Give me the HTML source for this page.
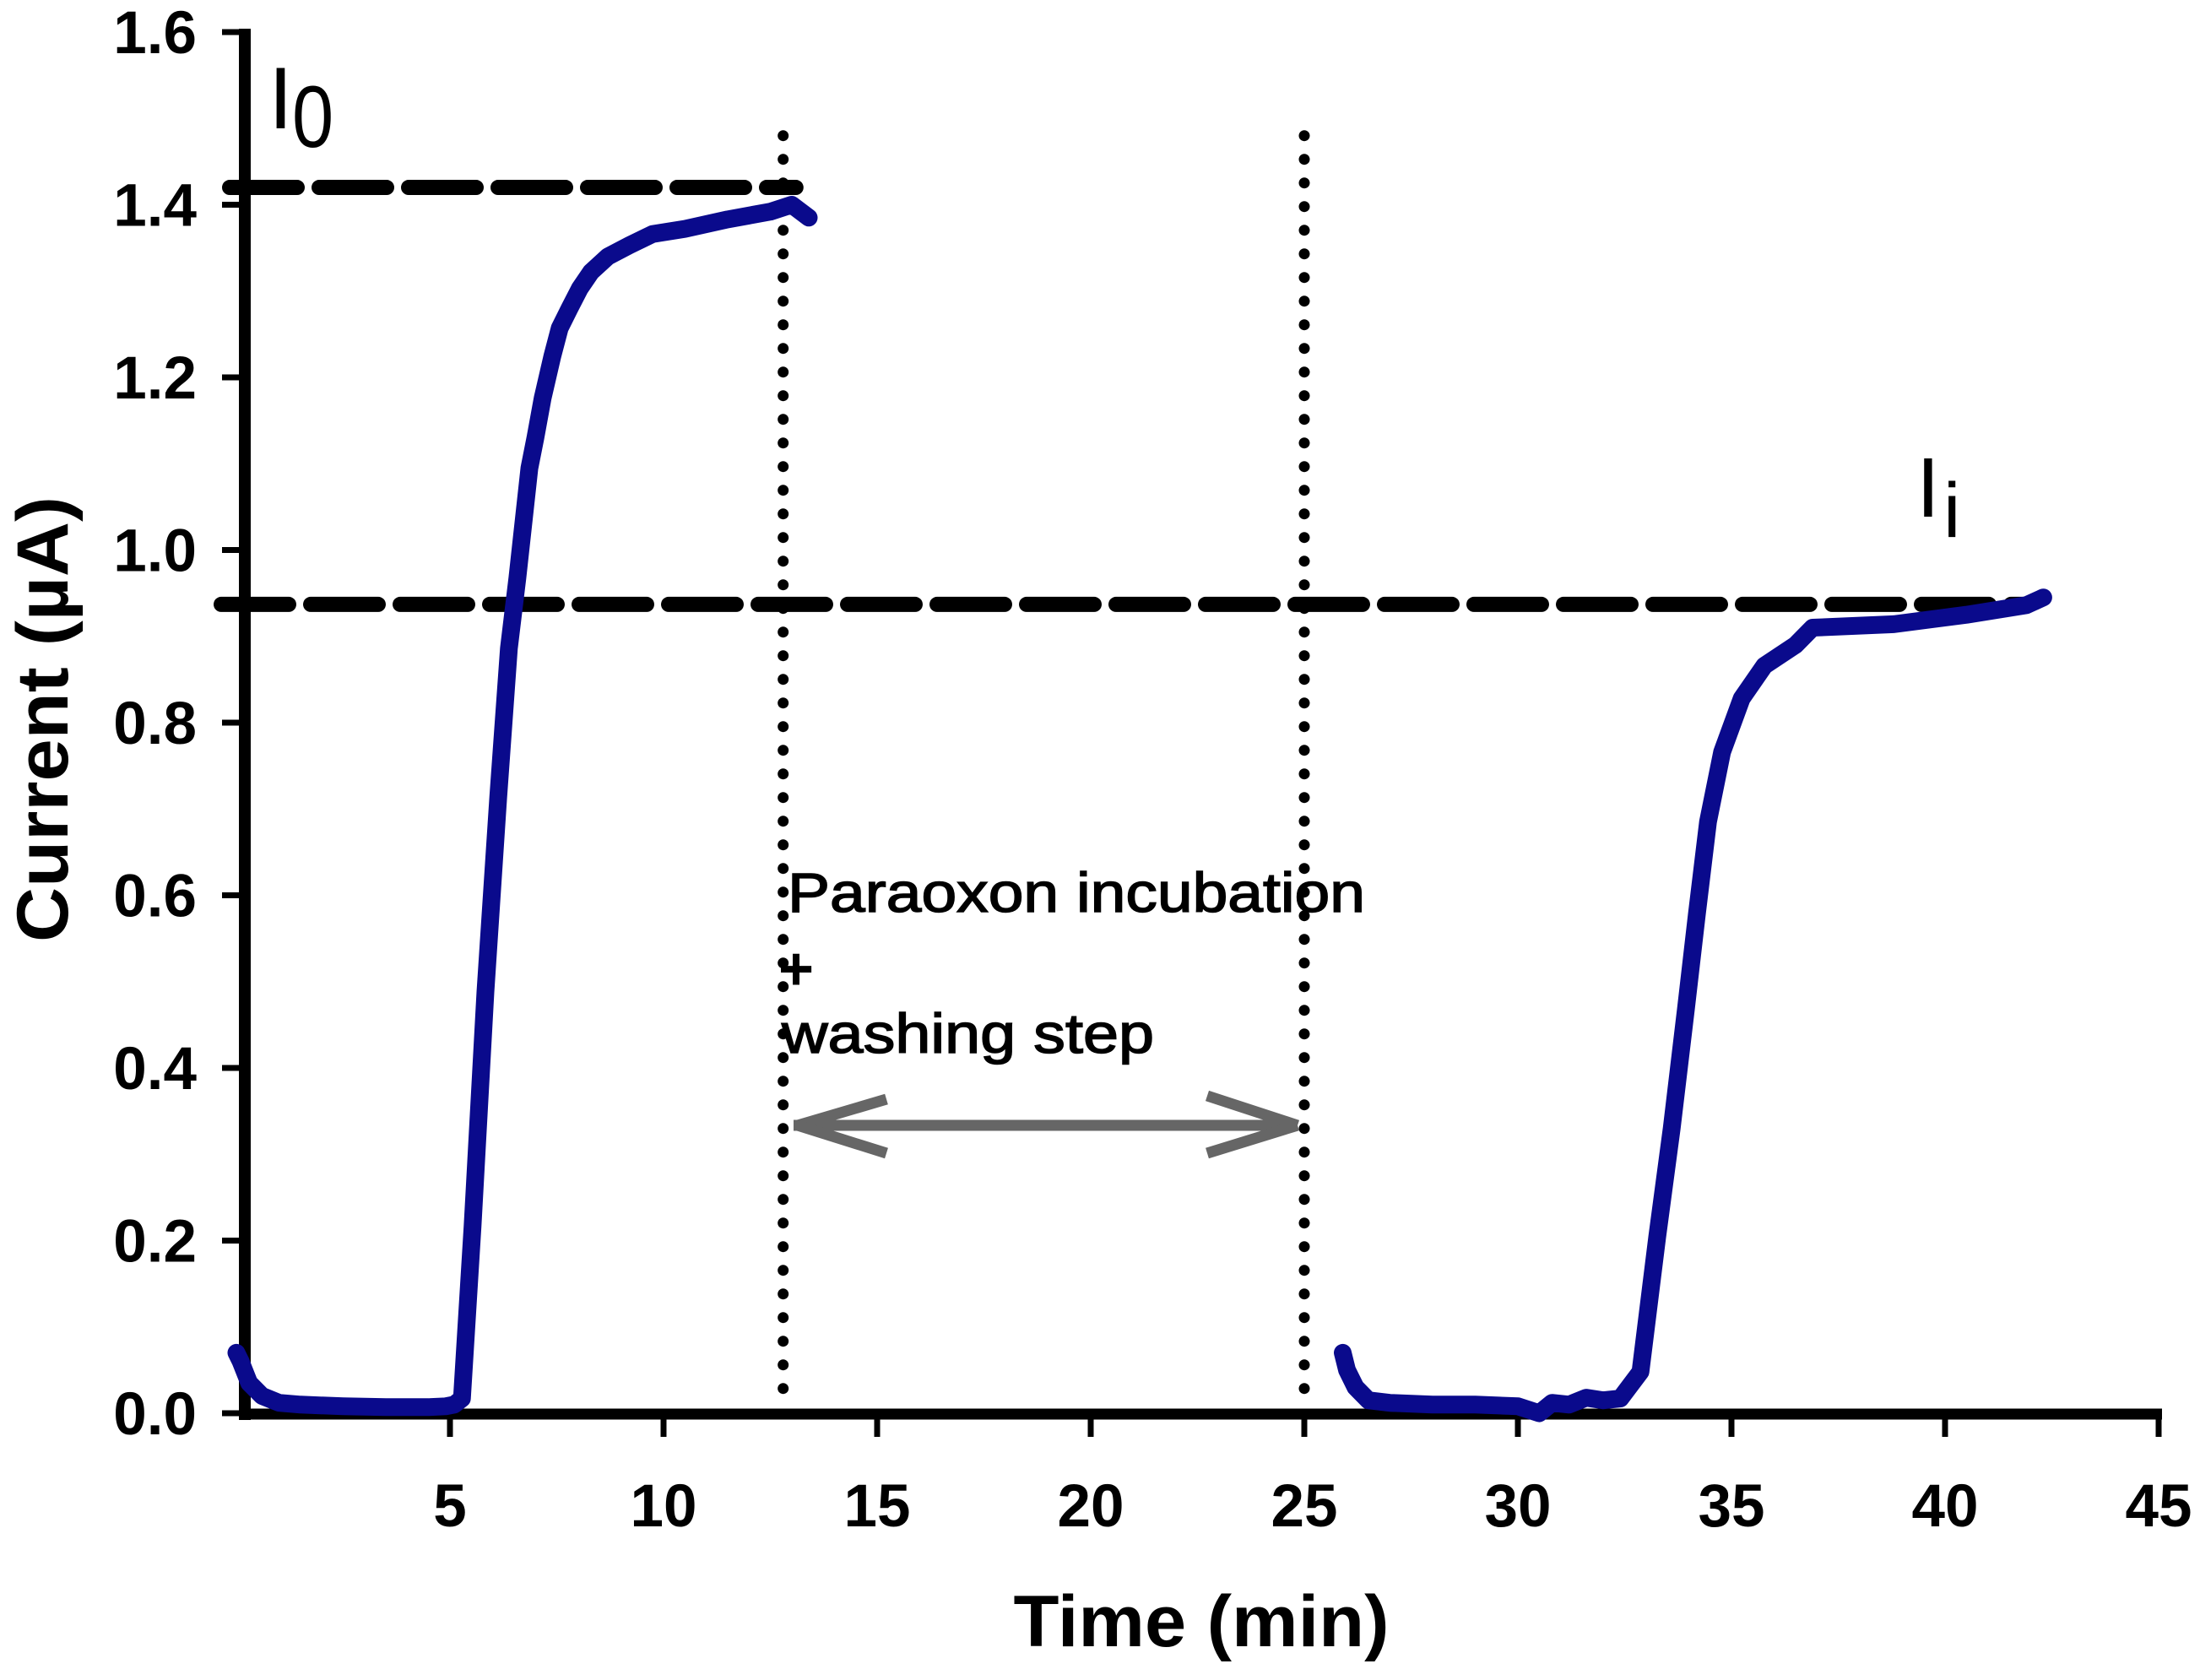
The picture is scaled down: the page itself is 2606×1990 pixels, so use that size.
<!DOCTYPE html>
<html><head><meta charset="utf-8"><style>
html,body{margin:0;padding:0;background:#fff}
svg{display:block}
text{font-family:"Liberation Sans",Arial,sans-serif}
</style></head><body>
<svg id="chart" width="2606" height="1990" viewBox="0 0 2606 1990" xmlns="http://www.w3.org/2000/svg">
<rect width="2606" height="1990" fill="#fff"/>
<g id="axes"></g>
<g id="refs"></g>
<g id="series"></g>
<g id="annot">
  <text x="318" y="152" font-size="104">I</text>
  <text x="346" y="174" font-size="104" transform="translate(346 174) scale(0.85 1) translate(-346 -174)">0</text>
  <text x="2270" y="612" font-size="100">I</text>
  <text x="2302" y="636" font-size="92">i</text>
  <text x="933" y="1080" font-size="66" stroke="#000" stroke-width="1.5" textLength="684" lengthAdjust="spacingAndGlyphs">Paraoxon incubation</text>
  <text x="922" y="1172" font-size="72" font-weight="bold">+</text>
  <text x="926" y="1247" font-size="66" stroke="#000" stroke-width="1.5" textLength="441" lengthAdjust="spacingAndGlyphs">washing step</text>
  <g stroke="#666" stroke-width="13" fill="none" stroke-linecap="butt">
    <line x1="940" y1="1333" x2="1535" y2="1333"/>
    <line x1="945" y1="1333" x2="1050" y2="1302"/>
    <line x1="945" y1="1333" x2="1050" y2="1366"/>
    <line x1="1537" y1="1333" x2="1430" y2="1298"/>
    <line x1="1537" y1="1333" x2="1430" y2="1366"/>
  </g>
  <text x="1423" y="1950" font-size="86" font-weight="bold" text-anchor="middle" textLength="445" lengthAdjust="spacingAndGlyphs">Time (min)</text>
  <text transform="translate(80 852) rotate(-90)" font-size="86" font-weight="bold" text-anchor="middle" textLength="528" lengthAdjust="spacingAndGlyphs">Current (µA)</text>
</g>
</svg>
<script>
const xTicks = [5,10,15,20,25,30,35,40,45];
const yTicks = [0.0,0.2,0.4,0.6,0.8,1.0,1.2,1.4,1.6];
const yTickLabels = ["0.0","0.2","0.4","0.6","0.8","1.0","1.2","1.4","1.6"];
const run1Time = [0,0.1,0.3,0.6,1,1.5,2.5,3.5,4.5,4.9,5.1,5.28,5.53,5.83,6.13,6.38,6.58,6.86,7.0,7.17,7.4,7.57,7.8,8.04,8.3,8.7,9.2,9.74,10.5,11.5,12.5,13.0,13.4];
const run1Current = [0.07,0.06,0.035,0.02,0.012,0.01,0.008,0.007,0.007,0.008,0.01,0.017,0.217,0.488,0.714,0.886,0.968,1.095,1.13,1.176,1.225,1.257,1.28,1.303,1.322,1.34,1.353,1.366,1.372,1.383,1.392,1.40,1.385];
const run2Time = [25.9,26.0,26.2,26.5,27,28,29,30,30.5,30.8,31.2,31.6,32,32.4,32.87,33.26,33.6,33.93,34.19,34.45,34.78,35.24,35.77,36.5,36.9,38.8,40.5,41.9,42.3];
const run2Current = [0.07,0.05,0.03,0.015,0.012,0.01,0.01,0.008,0.0,0.012,0.01,0.018,0.015,0.017,0.048,0.204,0.33,0.467,0.578,0.685,0.766,0.828,0.866,0.89,0.91,0.914,0.925,0.936,0.945];
const refI0 = 1.42, refIi = 0.937;
const refI0End = 13.0, refIiEnd = 41.9;
const vLines = [12.8, 25.0];
const vTop = 1.48, vBottom = 0.02;

const X0 = 280, XS = 50.6, Y0 = 1674, YS = 1022.5;
const sx = t => X0 + t * XS;
const sy = v => Y0 - v * YS;
const NS = "http://www.w3.org/2000/svg";
function mk(tag, parent, attrs){ const e=document.createElementNS(NS,tag); for(const k in attrs) e.setAttribute(k,attrs[k]); parent.appendChild(e); return e; }

const axes = document.getElementById('axes');
let e = mk('line', axes, {x1:290, y1:sy(1.6)-4, x2:290, y2:Y0+8, stroke:'#000','stroke-width':14});


e = mk('line', axes, {x1:283, y1:Y0+1, x2:sx(45)+4, y2:Y0+1, stroke:'#000','stroke-width':13});


yTicks.forEach((v,i)=>{
  const t = mk('line', axes, {x1:263, y1:sy(v), x2:290, y2:sy(v), stroke:'#000','stroke-width':7});
  
  
  const l = mk('text', axes, {x:233, y:sy(v)+25, 'font-size':71, 'font-weight':'bold', 'text-anchor':'end'});
  l.textContent = yTickLabels[i];
  
  
});
xTicks.forEach(v=>{
  const t = mk('line', axes, {x1:sx(v), y1:Y0, x2:sx(v), y2:Y0+28, stroke:'#000','stroke-width':7});
  
  
  const l = mk('text', axes, {x:sx(v), y:1808, 'font-size':71, 'font-weight':'bold', 'text-anchor':'middle'});
  l.textContent = String(v);
  
  
});

const refs = document.getElementById('refs');
e = mk('line', refs, {x1:272, y1:sy(refI0), x2:sx(refI0End)+5, y2:sy(refI0), stroke:'#000','stroke-width':18,'stroke-dasharray':'80 26','stroke-linecap':'round'});


e = mk('line', refs, {x1:262, y1:sy(refIi), x2:sx(refIiEnd), y2:sy(refIi), stroke:'#000','stroke-width':18,'stroke-dasharray':'80 26','stroke-linecap':'round'});


vLines.forEach(v=>{
  const l = mk('line', refs, {x1:sx(v), y1:sy(vTop), x2:sx(v), y2:sy(vBottom), stroke:'#000','stroke-width':13,'stroke-dasharray':'0 28','stroke-linecap':'round'});
  
  
});

const series = document.getElementById('series');
function drawRun(ts, vs, name){
  const d = ts.map((t,i)=>(i?'L':'M')+sx(t).toFixed(1)+' '+sy(vs[i]).toFixed(1)).join(' ');
  const p = mk('path', series, {d:d, fill:'none', stroke:'#0a0a8c','stroke-width':21,'stroke-linejoin':'round','stroke-linecap':'round'});
  
  
}
drawRun(run1Time, run1Current, 'run1-current-curve');
drawRun(run2Time, run2Current, 'run2-current-curve');
</script>
</body></html>
